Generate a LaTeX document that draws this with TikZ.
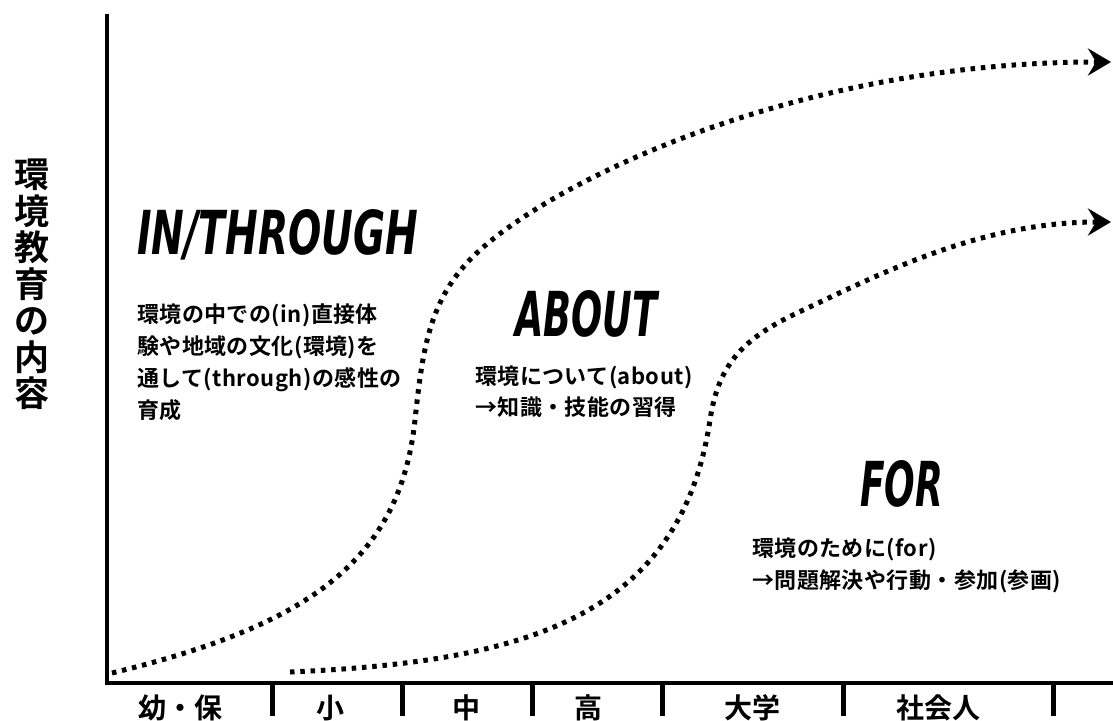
\documentclass[tikz,border=0pt]{standalone}
\usepackage{fontspec}
\usetikzlibrary{arrows.meta}
\newfontfamily\jp{Noto Sans CJK JP Bold}
\newfontfamily\jpb{Noto Sans CJK JP Bold}[LetterSpace=2]
\newfontfamily\ttl{DejaVu Sans}
\tikzset{
  axisline/.style={line width=4.5pt, line cap=butt},
  tickline/.style={line width=5pt},
  dotted curve/.style={line width=5pt, dash pattern=on 4.5pt off 5.8pt,
    -{Stealth[length=23pt,width=27pt,inset=8pt]}},
  xlab/.style={font=\jp\fontsize{28}{30}\selectfont, inner sep=0pt},
  body/.style={font=\jpb\fontsize{22}{32}\selectfont, align=left, inner sep=0pt, anchor=north west},
}
\newcommand{\ttlbox}[3]{\resizebox{#1}{#2}{\ttl\bfseries\itshape #3}}
\begin{document}
\begin{tikzpicture}[x=1pt,y=-1pt]
\useasboundingbox[fill=white] (0,0) rectangle (1113,720);
% axes
\coordinate (ytop) at (107,14);
\coordinate (origin) at (107,683);
\coordinate (xend) at (1113,683);
\draw[axisline, line join=miter] (ytop) -- (origin) -- (xend);
\foreach \n/\x in {t1/272,t2/402,t3/532,t4/662,t5/843,t6/1053}{
  \coordinate (\n a) at (\x,683);
  \coordinate (\n b) at (\x,716);
  \draw[tickline] (\n a) -- (\n b);
}
% x labels
\node[xlab] (l1) at (180,708) {幼・保};
\node[xlab] (l2) at (330,708) {小};
\node[xlab] (l3) at (466,708) {中};
\node[xlab] (l4) at (588,708) {高};
\node[xlab] (l5) at (752,708) {大学};
\node[xlab] (l6) at (938,708) {社会人};
% y label
\node[font=\jp\fontsize{35}{36.5}\selectfont, align=center, inner sep=0pt, anchor=north] (ylab) at (32,159)
  {環\\境\\教\\育\\の\\内\\容};
% titles
\node[inner sep=0pt, anchor=south west] (tin) at (137,260) {\ttlbox{281pt}{45pt}{IN/THROUGH}};
\node[inner sep=0pt, anchor=south west] (tab) at (515,338) {\ttlbox{142pt}{46pt}{ABOUT}};
\node[inner sep=0pt, anchor=south west] (tfor) at (860,508) {\ttlbox{83pt}{46pt}{FOR}};
% body texts
\node[body] (bin) at (137,304) {環境の中での(in)直接体\\験や地域の文化(環境)を\\通して(through)の感性の\\育成};
\node[body, font=\jpb\fontsize{22}{31}\selectfont] (bab) at (475,366) {環境について(about)\\→知識・技能の習得};
\node[body] (bfor) at (752,538) {環境のために(for)\\→問題解決や行動・参加(参画)};
% curves
\coordinate (c1s) at (112,673);
\coordinate (c1a) at (415,420);
\coordinate (c1b) at (480,250);
\coordinate (c1e) at (1111,62);
\draw[dotted curve] (c1s) .. controls (310,625) and (400,560) .. (c1a)
  .. controls (423,345) and (430,295) .. (c1b)
  .. controls (560,178) and (800,62) .. (c1e);
\coordinate (c2s) at (290,672);
\coordinate (c2a) at (710,420);
\coordinate (c2b) at (797,313);
\coordinate (c2e) at (1111,222);
\draw[dotted curve] (c2s) .. controls (520,662) and (680,620) .. (c2a)
  .. controls (718,367) and (740,340) .. (c2b)
  .. controls (880,274) and (980,222) .. (c2e);
\end{tikzpicture}
\end{document}
